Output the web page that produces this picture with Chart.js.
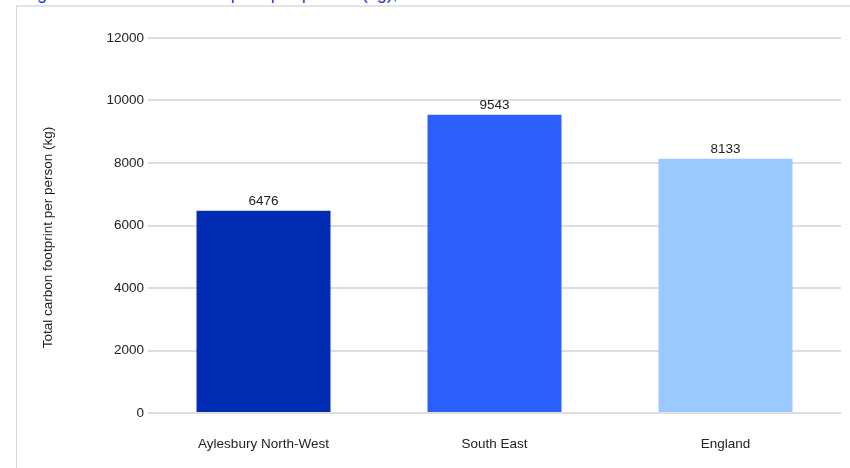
<!DOCTYPE html>
<html>
<head>
<meta charset="utf-8">
<script src="https://cdn.jsdelivr.net/npm/chart.js@4"></script>
<style>
  html, body { margin: 0; padding: 0; background: #fff; overflow: hidden; }
  body { width: 850px; height: 468px; position: relative; font-family: "Liberation Sans", Arial, sans-serif; }
  #title { position: absolute; left: 22px; top: -16px; font-size: 18px; line-height: 18px; color: #2140cc; white-space: nowrap; }
  #frame { position: absolute; left: 16px; top: 5px; width: 840px; height: 470px; border-top: 2px solid #e3e3e3; border-left: 1px solid #d6d6d6; }
  #wrap { position: absolute; left: 0; top: 0; width: 850px; height: 468px; }
</style>
</head>
<body>
<div id="title">Figure 3: Total carbon footprint per person (kg), 2019</div>
<div id="frame"></div>
<div id="wrap"><canvas id="chart" width="850" height="468"></canvas></div>
<script>
// Datos
const categorias = ['Aylesbury North-West', 'South East', 'England'];
const valores = [6476, 9543, 8133];
const colores = ['#002db3', '#2b60ff', '#99c9ff'];
const tituloEjeY = 'Total carbon footprint per person (kg)';
const ejeYMax = 12000;
const ejeYPaso = 2000;

const fuente = '"Liberation Sans", Arial, sans-serif';
const tamFuente = 13.5;

// Etiquetas de valor encima de cada barra + título del eje Y (un poco por debajo del centro, como el original)
const etiquetasBarras = {
    id: 'etiquetasBarras',
    afterDatasetsDraw(chart) {
        const ctx = chart.ctx;
        const meta = chart.getDatasetMeta(0);
        ctx.save();
        ctx.font = tamFuente + 'px ' + fuente;
        ctx.fillStyle = '#222';
        ctx.textAlign = 'center';
        ctx.textBaseline = 'bottom';
        meta.data.forEach((bar, i) => {
            ctx.fillText(String(valores[i]), bar.x, bar.y - 3);
        });
        const area = chart.chartArea;
        ctx.translate(48, (area.top + area.bottom) / 2 + 12);
        ctx.rotate(-Math.PI / 2);
        ctx.textBaseline = 'middle';
        ctx.fillText(tituloEjeY, 0, 0);
        ctx.restore();
    }
};

const ctx = document.getElementById('chart').getContext('2d');
const chart = new Chart(ctx, {
    type: 'bar',
    data: {
        labels: categorias,
        datasets: [{
            data: valores,
            backgroundColor: colores,
            borderWidth: 0,
            barPercentage: 0.58,
            categoryPercentage: 1
        }]
    },
    options: {
        responsive: false,
        animation: false,
        layout: { padding: { left: 35, right: 9, top: 38, bottom: 16 } },
        plugins: {
            legend: { display: false },
            tooltip: { enabled: false }
        },
        scales: {
            x: {
                afterFit(scale) { scale.height = 39; },
                grid: { display: false, drawTicks: false },
                border: { display: false },
                ticks: {
                    color: '#222',
                    padding: 23,
                    font: { family: fuente, size: tamFuente }
                }
            },
            y: {
                min: 0,
                max: ejeYMax,
                afterFit(scale) { scale.width = 113; },
                grid: { color: '#dedede', lineWidth: 2, drawTicks: false },
                border: { display: false },
                ticks: {
                    stepSize: ejeYPaso,
                    color: '#222',
                    padding: 4,
                    callback: (v) => String(v),
                    font: { family: fuente, size: tamFuente }
                }
            }
        }
    },
    plugins: [etiquetasBarras]
});
</script>
</body>
</html>
